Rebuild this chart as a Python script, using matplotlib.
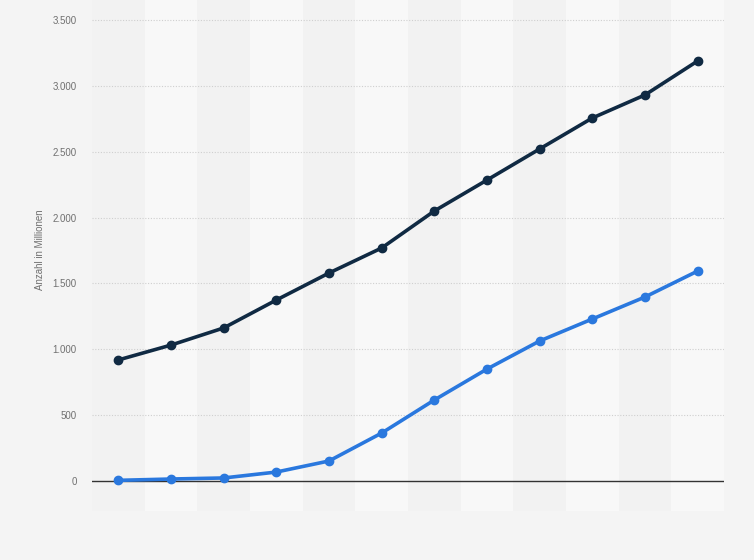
import numpy as np
import matplotlib.pyplot as plt
from matplotlib.ticker import FuncFormatter

# values (Anzahl in Millionen)
years = list(range(12))
series_dark = [919, 1032, 1162, 1374, 1579, 1769, 2050, 2285, 2521, 2756, 2931, 3189]
series_blue = [5, 15, 23, 68, 152, 364, 615, 850, 1063, 1230, 1397, 1594]
y_ticks = [0, 500, 1000, 1500, 2000, 2500, 3000, 3500]

plt.rcParams['font.family'] = ['Liberation Sans', 'DejaVu Sans']

fig = plt.figure(figsize=(7.54, 5.6), dpi=100, facecolor='#f4f4f4')
ax = fig.add_axes([92 / 754, 1 - 511 / 560, 632 / 754, 511 / 560])
ax.set_facecolor('#f2f2f2')

# y pixel 481 -> 0, pixel 20 -> 3500
per_px = 3500 / 461
ax.set_ylim(-30 * per_px, 481 * per_px)
ax.set_xlim(-0.5, len(years) - 0.5)

for i in years:
    if i % 2 == 1:
        ax.axvspan(i - 0.5, i + 0.5, color='#f8f8f8', zorder=0, lw=0)

for t in y_ticks[1:]:
    ax.axhline(t, color='#cfcfcf', lw=0.8, ls=(0, (1, 1.5)), zorder=1)
ax.axhline(0, color='#333333', lw=1.0, zorder=2)

ax.plot(years, series_blue, color='#2a78de', lw=2.6, marker='o', ms=6, zorder=3)
ax.plot(years, series_dark, color='#102a43', lw=2.6, marker='o', ms=6, zorder=4)

ax.set_yticks(y_ticks)
ax.yaxis.set_major_formatter(FuncFormatter(lambda v, p: f'{int(v):,}'.replace(',', '.')))
ax.tick_params(axis='y', length=0, pad=11, labelsize=7, labelcolor='#707070')
ax.set_xticks([])
for s in ax.spines.values():
    s.set_visible(False)

fig.text(40 / 754, 1 - 250 / 560, 'Anzahl in Millionen', rotation=90, fontsize=7,
         color='#707070', ha='center', va='center')

fig.savefig('out.png', dpi=100, facecolor=fig.get_facecolor())
